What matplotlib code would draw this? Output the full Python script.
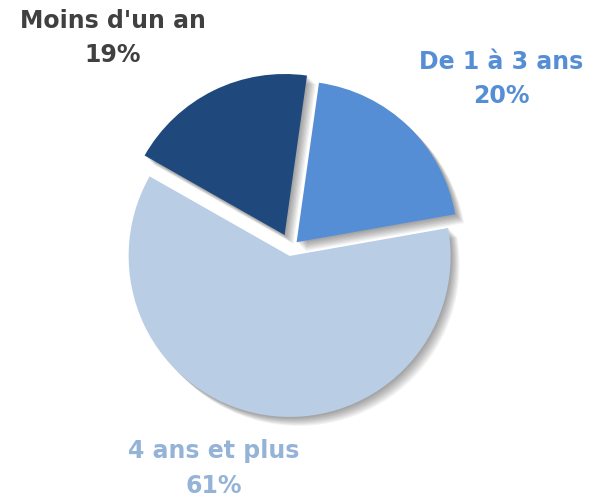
import matplotlib
matplotlib.use("Agg")
import matplotlib.pyplot as plt
import matplotlib.patches as mpatches

# Data
categories = ["De 1 à 3 ans", "4 ans et plus", "Moins d'un an"]
values = [20, 61, 19]

# Styles
colors = ["#558ED5", "#B9CDE5", "#1F497D"]
label_colors = ["#558ED5", "#95B3D7", "#404040"]
explode = [0.05, 0.05, 0.09]
label_pos = [(1.305, 1.05), (-0.48, -1.37), (-1.105, 1.305)]

W, H = 594, 499
R_PX = 161.0
CX, CY = 291.0, 251.0  # pie center in pixels (from bottom-left)

fig = plt.figure(figsize=(W / 100, H / 100), dpi=100)
ax = fig.add_axes([0, 0, 1, 1])

wedges, _ = ax.pie(values, colors=colors, explode=explode, startangle=82,
                   counterclock=False, radius=1.0, center=(0, 0),
                   wedgeprops=dict(linewidth=0), frame=True)
ax.set_xlim(-CX / R_PX, (W - CX) / R_PX)
ax.set_ylim(-CY / R_PX, (H - CY) / R_PX)
ax.set_aspect("auto")
ax.axis("off")

# soft drop shadow (lower right)
for w in wedges:
    for k in range(1, 9):
        off = 0.005 * k
        sh = mpatches.Shadow(w, off, -off, facecolor="black", edgecolor="none",
                             alpha=0.05, zorder=w.get_zorder() - 0.5)
        ax.add_patch(sh)

for cat, val, (x, y), c in zip(categories, values, label_pos, label_colors):
    ax.text(x, y, f"{cat}\n{val}%", ha="center", va="center", color=c,
            fontsize=17, fontweight="bold", family="DejaVu Sans",
            linespacing=1.55)

fig.savefig("out.png", dpi=100)
